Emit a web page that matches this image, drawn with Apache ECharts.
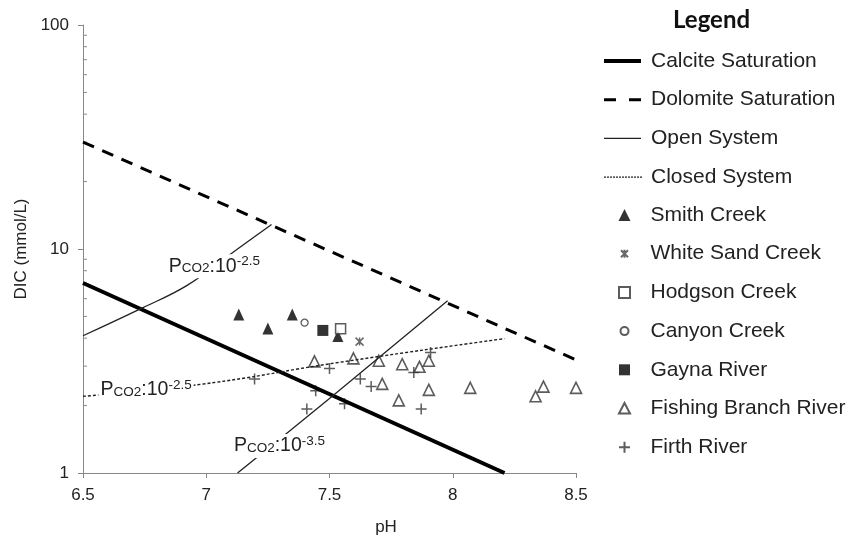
<!DOCTYPE html>
<html><head><meta charset="utf-8">
<script src="https://cdn.jsdelivr.net/npm/echarts@6/dist/echarts.min.js"></script>
<style>html,body{margin:0;padding:0;background:#fff}#c{width:850px;height:541px}</style>
</head><body><div id="c"></div>
<script>
// ---- axis ticks ----
const xTicks = [6.5, 7, 7.5, 8, 8.5];
const yTicks = [1, 10, 100];
const yMinorTicks = [2, 3, 4, 5, 6, 7, 8, 9, 20, 30, 40, 50, 60, 70, 80, 90];

// ---- reference lines [pH, DIC mmol/L] ----
const calcite = [[6.5, 7.05], [8.21, 1.0]];
const dolomite = [[6.5, 30.0], [8.5, 3.2]];
const openHigh = [[6.5, 4.10], [6.741, 5.46], [6.924, 6.90], [7.127, 10.0], [7.265, 12.86]];
const openLow = [[7.127, 1.0], [7.5, 2.15], [7.979, 5.87]];
const closed = [[6.5, 2.2], [6.981, 2.49], [7.541, 3.12], [8.21, 3.98]];

// ---- samples [pH, DIC mmol/L] ----
const smithCreek = [[7.132, 5.10], [7.25, 4.42], [7.349, 5.10], [7.534, 4.09]];
const whiteSandCreek = [[7.622, 3.86]];
const hodgsonCreek = [[7.545, 4.40]];
const canyonCreek = [[7.399, 4.69]];
const gaynaRiver = [[7.473, 4.33]];
const fishingBranch = [[7.439, 3.15], [7.597, 3.25], [7.700, 3.17], [7.714, 2.50], [7.781, 2.11],
  [7.795, 3.06], [7.865, 2.98], [7.903, 3.17], [7.903, 2.35], [8.071, 2.40], [8.336, 2.20],
  [8.368, 2.43], [8.50, 2.40]];
const firthRiver = [[7.196, 2.63], [7.408, 1.93], [7.444, 2.33], [7.50, 2.93], [7.561, 2.04],
  [7.625, 2.63], [7.669, 2.43], [7.842, 2.81], [7.872, 1.93], [7.910, 3.45]];

const lineNames = ['Calcite Saturation', 'Dolomite Saturation', 'Open System', 'Closed System'];
const markerNames = ['Smith Creek', 'White Sand Creek', 'Hodgson Creek', 'Canyon Creek', 'Gayna River', 'Fishing Branch River', 'Firth River'];
const pco2High = '-2.5', pco2Low = '-3.5';

const FONT = 'Liberation Sans';
const plusPath = 'path://M5,0L5,10M0,5L10,5';
const starPath = 'path://M0,0L10,10M10,0L0,10M5,0L5,10';

// legend icons drawn inside a 42x12 box (leading moves fix the box)
const BOX = 'path://M0,0M42,12';
const lgTriFilled = BOX + 'M21,0L27,12L15,12Z';
const lgStar = BOX + 'M17.5,2.5L24.5,9.5M24.5,2.5L17.5,9.5M21,2L21,10';
const lgSquare = BOX + 'M15.5,0.5H26.5V11.5H15.5Z';
const lgCircle = BOX + 'M21,2A4,4 0 1,1 21,10A4,4 0 1,1 21,2Z';
const lgTriOpen = BOX + 'M21,0.5L26.5,11L15.5,11Z';
const lgPlus = BOX + 'M21,0.5L21,11.5M15.5,6L26.5,6';

function dotted(n) { let s = 'path://'; for (let i = 0; i < n; i++) { const x = i * 3; s += 'M' + x + ',0H' + (x + 2) + 'V1.3H' + x + 'Z'; } return s; }

const rich = {
  m: { fontSize: 19.5, fontFamily: FONT, color: '#222', lineHeight: 24 },
  sub: { fontSize: 13.5, fontFamily: FONT, color: '#222', verticalAlign: 'bottom', padding: [0, 0, 3, 0] },
  sup: { fontSize: 13.5, fontFamily: FONT, color: '#222', verticalAlign: 'top' }
};
function pLabel(exp) { return '{m|P}{sub|CO2}{m|:10}{sup|' + exp + '}'; }
function mark(coord, exp) {
  return {
    symbol: 'rect', symbolSize: 1, itemStyle: { color: 'rgba(0,0,0,0)' }, silent: true, animation: false,
    label: { show: true, position: 'inside', formatter: pLabel(exp), rich: rich, backgroundColor: '#fff', padding: [0, 2] },
    data: [{ coord: coord }]
  };
}

const legendText = { fontFamily: FONT, fontSize: 21, color: '#222', lineHeight: 22 };

const chart = echarts.init(document.getElementById('c'), null, { renderer: 'canvas' });
chart.setOption({
  animation: false,
  backgroundColor: '#fff',
  title: { text: 'Legend', left: 673, top: 8, padding: 0,
    textStyle: { fontFamily: 'Lato', fontWeight: 'bold', fontSize: 24, color: '#111' } },
  grid: { left: 83, top: 25, width: 493, height: 451, containLabel: false },
  legend: [
    { orient: 'vertical', left: 604, top: 50, padding: 0, itemWidth: 42, itemHeight: 12, itemGap: 16.7,
      selectedMode: false, textStyle: legendText,
      data: [
        { name: lineNames[0], icon: 'path://M0,0H37V4H0Z M0,0M42,0' },
        { name: lineNames[1], icon: 'path://M0,0H12V3H0Z M25,0H37V3H25Z M0,0M42,0' },
        { name: lineNames[2], icon: 'path://M0,0H37V1.3H0Z M0,0M42,0' },
        { name: lineNames[3], icon: dotted(13) + 'M0,0M42,0' }
      ] },
    { orient: 'vertical', left: 601, top: 204, padding: 0, itemWidth: 42, itemHeight: 12, itemGap: 16.7,
      selectedMode: false, textStyle: legendText,
      data: [
        { name: markerNames[0], icon: lgTriFilled },
        { name: markerNames[1], icon: lgStar },
        { name: markerNames[2], icon: lgSquare },
        { name: markerNames[3], icon: lgCircle },
        { name: markerNames[4], icon: lgSquare },
        { name: markerNames[5], icon: lgTriOpen },
        { name: markerNames[6], icon: lgPlus }
      ] }
  ],
  xAxis: {
    type: 'value', min: xTicks[0], max: xTicks[xTicks.length - 1], interval: 0.5,
    name: 'pH', nameLocation: 'middle', nameGap: 46,
    nameTextStyle: { fontFamily: FONT, fontSize: 17, color: '#222', padding: [0, 0, 0, 113] },
    axisLine: { lineStyle: { color: '#888', width: 1 } },
    axisTick: { show: true, length: 5, lineStyle: { color: '#888' } },
    axisLabel: { fontFamily: FONT, fontSize: 17, color: '#222', margin: 14 },
    splitLine: { show: false }
  },
  yAxis: {
    type: 'log', logBase: 10, min: yTicks[0], max: yTicks[yTicks.length - 1],
    name: 'DIC (mmol/L)', nameLocation: 'middle', nameGap: 48,
    nameTextStyle: { fontFamily: FONT, fontSize: 17, color: '#222' },
    axisLine: { show: true, lineStyle: { color: '#888', width: 1 } },
    axisTick: { show: true, length: 5, lineStyle: { color: '#888' } },
    axisLabel: { fontFamily: FONT, fontSize: 17, color: '#222', margin: 14 },
    splitLine: { show: false }
  },
  series: [
    { type: 'custom', name: 'minor', silent: true, data: yMinorTicks.map(v => [xTicks[0], v]),
      encode: { x: 0, y: 1 }, clip: false,
      renderItem: function (params, api) {
        const p = api.coord([api.value(0), api.value(1)]);
        return { type: 'line', shape: { x1: p[0], y1: p[1], x2: p[0] + 4, y2: p[1] },
          style: { stroke: '#888', lineWidth: 1 } };
      } },
    { type: 'line', name: lineNames[0], data: calcite, symbol: 'none', color: '#000',
      lineStyle: { color: '#000', width: 4 } },
    { type: 'line', name: lineNames[1], data: dolomite, symbol: 'none', color: '#000',
      lineStyle: { color: '#000', width: 3, type: [12, 9] } },
    { type: 'line', name: lineNames[2], data: openHigh, symbol: 'none', smooth: 0.4, color: '#222',
      lineStyle: { color: '#222', width: 1.3 }, markPoint: mark([7.033, 8.38], pco2High) },
    { type: 'line', name: lineNames[2], data: openLow, symbol: 'none', smooth: true, color: '#222',
      lineStyle: { color: '#222', width: 1.3 }, markPoint: mark([7.297, 1.32], pco2Low) },
    { type: 'line', name: lineNames[3], data: closed, symbol: 'none', smooth: true, color: '#222',
      lineStyle: { color: '#222', width: 1.4, type: [3, 2] }, markPoint: mark([6.756, 2.35], pco2High) },

    { type: 'scatter', name: markerNames[0], data: smithCreek, symbol: 'triangle', symbolSize: [11, 12],
      itemStyle: { color: '#000' } },
    { type: 'scatter', name: markerNames[1], data: whiteSandCreek, symbol: starPath, symbolSize: 8,
      itemStyle: { color: 'none', borderColor: '#444', borderWidth: 1.5 } },
    { type: 'scatter', name: markerNames[4], data: gaynaRiver, symbol: 'rect', symbolSize: 11,
      itemStyle: { color: '#000' } },
    { type: 'scatter', name: markerNames[2], data: hodgsonCreek, symbol: 'rect', symbolSize: 10,
      itemStyle: { color: '#fff', borderColor: '#333', borderWidth: 1.5 } },
    { type: 'scatter', name: markerNames[3], data: canyonCreek, symbol: 'circle', symbolSize: 7,
      itemStyle: { color: '#fff', borderColor: '#333', borderWidth: 1.3 } },
    { type: 'scatter', name: markerNames[5], data: fishingBranch, symbol: 'triangle', symbolSize: 11,
      itemStyle: { color: '#fff', borderColor: '#333', borderWidth: 1.6 } },
    { type: 'scatter', name: markerNames[6], data: firthRiver, symbol: plusPath, symbolSize: 11,
      itemStyle: { color: 'none', borderColor: '#333', borderWidth: 1.5 } }
  ]
});
</script>
</body></html>
